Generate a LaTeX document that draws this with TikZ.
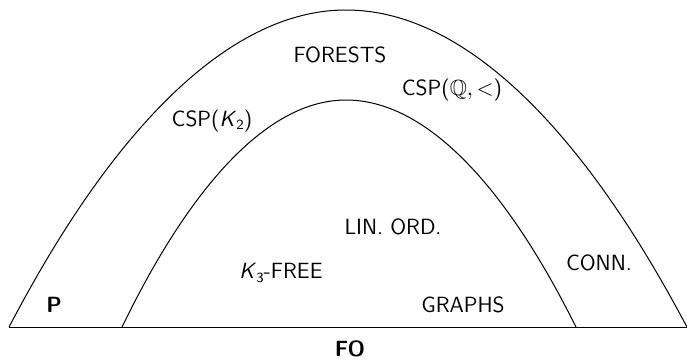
\documentclass[tikz,border=0pt]{standalone}
\usepackage{amsmath,amssymb}
\usepackage{tikz}
\usetikzlibrary{positioning,calc}
\renewcommand{\familydefault}{\sfdefault}
\newcommand{\subsf}[1]{\raisebox{-0.35ex}{\scriptsize #1}}
\tikzset{
  cls/.style={font=\fontsize{11}{13}\selectfont\sffamily,inner sep=0pt},
  clsb/.style={cls,font=\fontsize{11}{13}\selectfont\sffamily\bfseries},
  arc/.style={draw=black,line width=0.5pt},
}

\begin{document}
\begin{tikzpicture}[x=0.5pt,y=-0.5pt]
  \useasboundingbox (0,0) rectangle (687,360);
  \coordinate (outL) at (9,327);
  \coordinate (outT) at (346,10);
  \coordinate (outR) at (687,327);
  \coordinate (inL) at (122,327);
  \coordinate (inT) at (346,100);
  \coordinate (inR) at (576,327);
  \draw[arc] (outL) parabola bend (outT) (outR);
  \draw[arc] (inL) parabola bend (inT) (inR);
  \draw[arc] (outL) -- (outR);
  \node[cls] (forests) at (340,55) {FORESTS};
  \node[cls] (cspq) at (452,90) {CSP($\mathbb{Q},<$)};
  \node[cls] (cspk) at (212,121) {CSP(\textsl{K}\subsf{2})};
  \node[cls] (linord) at (393,227) {LIN. ORD.};
  \node[cls] (conn) at (599,263) {CONN.};
  \node[cls] (kfree) at (281,273) {\textsl{K}\subsf{3}-FREE};
  \node[cls] (graphs) at (463,305) {GRAPHS};
  \node[clsb] (p) at (54,305) {P};
  \node[clsb] (fo) at (350,349) {FO};
\end{tikzpicture}
\end{document}
